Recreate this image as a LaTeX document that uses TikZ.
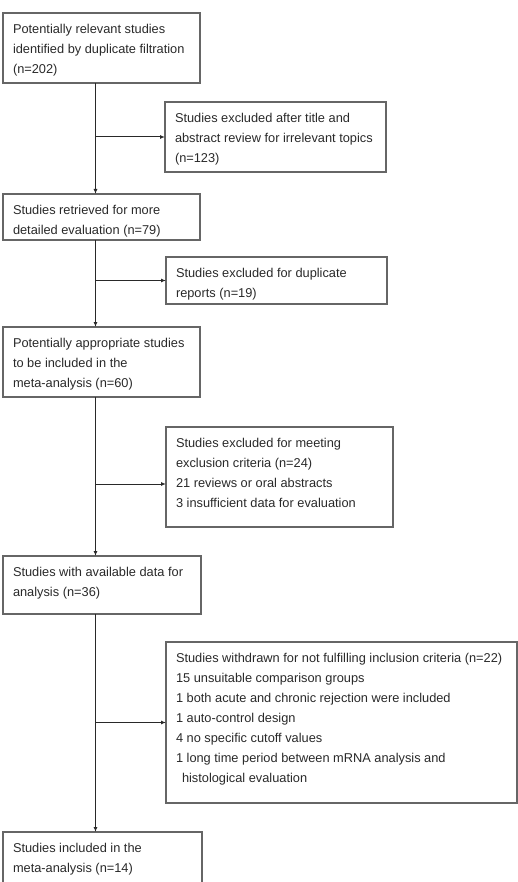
\documentclass[tikz,border=0pt]{standalone}
\usepackage{fontspec}
\setmainfont{Liberation Sans}
\usetikzlibrary{arrows.meta}
\definecolor{boxgray}{rgb}{0.4,0.4,0.4}
\definecolor{inkgray}{rgb}{0.16,0.16,0.16}
\newcommand{\flowtext}[3]{\parbox[t][#2][t]{#1}{\raggedright\rule{0pt}{20.5pt}#3}}

\begin{document}
\begin{tikzpicture}[x=1pt, y=-1pt,
  box/.style={draw=boxgray, line width=1.2pt, anchor=north west, inner xsep=10pt,
    inner ysep=0pt, outer sep=0pt, text=inkgray, font=\fontsize{12.8}{20}\selectfont},
  arr/.style={-{Latex[length=5pt,width=4pt]}, draw=inkgray, line width=1pt}]
  \useasboundingbox (0,0) rectangle (518,882);
  \clip (0,0) rectangle (518,882);

  \node[box] (found)       at (3,13)    {\flowtext{177pt}{70pt}{Potentially relevant studies\\identified by duplicate filtration\\(n=202)}};
  \node[box] (offtopic)    at (165,102) {\flowtext{201pt}{70pt}{Studies excluded after title and\\abstract review for irrelevant topics\\(n=123)}};
  \node[box] (retrieved)   at (3,194)   {\flowtext{177pt}{46pt}{Studies retrieved for more\\detailed evaluation (n=79)}};
  \node[box] (duplicate)   at (166,257) {\flowtext{201pt}{47pt}{Studies excluded for duplicate\\reports (n=19)}};
  \node[box] (appropriate) at (3,327)   {\flowtext{177pt}{70pt}{Potentially appropriate studies\\to be included in the\\meta-analysis (n=60)}};
  \node[box] (criteria)    at (166,427) {\flowtext{207pt}{100pt}{Studies excluded for meeting\\exclusion criteria (n=24)\\21 reviews or oral abstracts\\3 insufficient data for evaluation}};
  \node[box] (available)   at (3,556)   {\flowtext{178pt}{58pt}{Studies with available data for\\analysis (n=36)}};
  \node[box] (withdrawn)   at (166,642) {\flowtext{331pt}{161pt}{Studies withdrawn for not fulfilling inclusion criteria (n=22)\\15 unsuitable comparison groups\\1 both acute and chronic rejection were included\\1 auto-control design\\4 no specific cutoff values\\1 long time period between mRNA analysis and\\\hspace*{6pt}histological evaluation}};
  \node[box] (included)    at (3,832)   {\flowtext{179pt}{60pt}{Studies included in the\\meta-analysis (n=14)}};

  \coordinate (spine) at (95.5,0);
  \coordinate (criteria in) at ([yshift=-7pt]criteria.west);

  \draw[arr] (found.south -| spine) -- (retrieved.north -| spine);
  \draw[arr] (offtopic.west -| spine) -- (offtopic.west);
  \draw[arr] (retrieved.south -| spine) -- (appropriate.north -| spine);
  \draw[arr] (duplicate.west -| spine) -- (duplicate.west);
  \draw[arr] (appropriate.south -| spine) -- (available.north -| spine);
  \draw[arr] (criteria in -| spine) -- (criteria in);
  \draw[arr] (available.south -| spine) -- (included.north -| spine);
  \draw[arr] (withdrawn.west -| spine) -- (withdrawn.west);
\end{tikzpicture}
\end{document}
